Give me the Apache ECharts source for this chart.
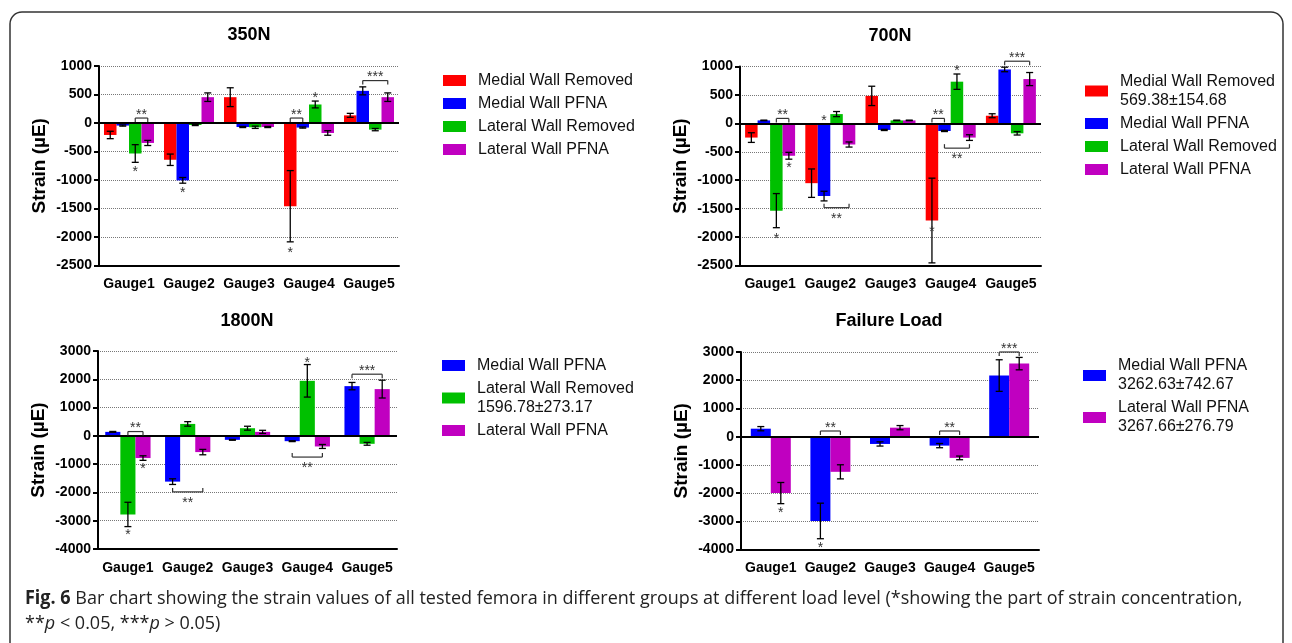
<!DOCTYPE html>
<html><head><meta charset="utf-8">
<script src="https://cdn.jsdelivr.net/npm/echarts@6/dist/echarts.min.js"></script>
<style>html,body{margin:0;padding:0;background:#fff}#c{width:1292px;height:643px}</style>
</head><body><div id="c"></div>
<script>
const gauges = ['Gauge1','Gauge2','Gauge3','Gauge4','Gauge5'];
const groupNames = ['Medial Wall Removed','Medial Wall PFNA','Lateral Wall Removed','Lateral Wall PFNA'];
const groupColors = ['#ff0000','#0000ff','#00c000','#c000c0'];

// ---- 350N ----
const mwr350 = [-210,-645,453,-1460,134];
const mwr350Err = [65,100,165,625,35];
const mwp350 = [-45,-1006,-70,-80,564];
const mwp350Err = [10,50,10,10,70];
const lwr350 = [-535,-35,-75,325,-116];
const lwr350Err = [155,10,20,60,20];
const lwp350 = [-350,453,-70,-175,453];
const lwp350Err = [45,75,10,40,75];
// brackets: [gauge, fromBar, toBar, y value, label, side]
const sig350 = [[0,2,3,87,'**','above'],[3,0,1,87,'**','above'],[4,1,3,744,'***','above']];
// stars: [gauge, bar, y value]
const star350 = [[0,2,-814],[1,1,-1174],[3,2,483],[3,0,-2227]];

// ---- 700N ----
const mwr700 = [-250,-1052,483,-1709,134];
const mwr700Err = [85,250,170,745,35];
const mwp700 = [52,-1279,-116,-134,948];
const mwp700Err = [5,85,10,10,40];
const lwr700 = [-1535,163,52,733,-175];
const lwr700Err = [300,45,5,135,30];
const lwp700 = [-570,-372,52,-250,779];
const lwp700Err = [60,45,5,50,115];
const sig700 = [[0,2,3,87,'**','above'],[1,1,3,-1483,'**','below'],[3,0,1,87,'**','above'],[3,1,3,-436,'**','below'],[4,1,3,1093,'***','above']];
const star700 = [[0,2,-1988],[0,3,-727],[1,1,87],[3,2,971],[3,0,-1860]];
const note700 = ['569.38±154.68','','',''];

// ---- 1800N ----
const mwp1800 = [141,-1618,-141,-188,1758];
const mwp1800Err = [15,100,15,15,130];
const lwr1800 = [-2778,422,270,1946,-281];
const lwr1800Err = [430,80,70,575,50];
const lwp1800 = [-785,-574,141,-375,1653];
const lwp1800Err = [80,95,55,70,315];
const sig1800 = [[0,1,2,152,'**','above'],[1,0,2,-1981,'**','below'],[3,0,2,-750,'**','below'],[4,0,2,2180,'***','above']];
const star1800 = [[0,2,-1078],[0,1,-3400],[3,1,2673]];
const note1800 = ['','1596.78±273.17',''];

// ---- Failure Load ----
const mwpFail = [282,-2988,-259,-318,2165];
const mwpFailErr = [75,630,75,75,560];
const lwpFail = [-2000,-1247,318,-753,2588];
const lwpFailErr = [375,250,75,65,220];
const sigFail = [[1,0,1,200,'**','above'],[3,0,1,200,'**','above'],[4,0,1,3000,'***','above']];
const starFail = [[0,1,-2612],[1,0,-3847]];
const noteFail = ['3262.63±742.67','3267.66±276.79'];

const yTicks350 = {min:-2500, max:1000, interval:500};
const yTicks1800 = {min:-4000, max:3000, interval:1000};

const charts = [
  {title:'350N', tx:249, ty:35, grid:{left:99,top:66,width:300,height:199.5}, ticks:yTicks350,
   groups:[0,1,2,3], means:[mwr350,mwp350,lwr350,lwp350], errs:[mwr350Err,mwp350Err,lwr350Err,lwp350Err],
   barW:12.5, sig:sig350, stars:star350, notes:['','','',''], legend:{left:443,top:71}},
  {title:'700N', tx:890, ty:36, grid:{left:740,top:66.5,width:301,height:199}, ticks:yTicks350,
   groups:[0,1,2,3], means:[mwr700,mwp700,lwr700,lwp700], errs:[mwr700Err,mwp700Err,lwr700Err,lwp700Err],
   barW:12.5, sig:sig700, stars:star700, notes:note700, legend:{left:1085,top:72}},
  {title:'1800N', tx:247, ty:321, grid:{left:98,top:351,width:299,height:198}, ticks:yTicks1800,
   groups:[1,2,3], means:[mwp1800,lwr1800,lwp1800], errs:[mwp1800Err,lwr1800Err,lwp1800Err],
   barW:15.1, sig:sig1800, stars:star1800, notes:note1800, legend:{left:442,top:356}},
  {title:'Failure Load', tx:889, ty:321, grid:{left:741,top:352,width:298,height:197.5}, ticks:yTicks1800,
   groups:[1,3], means:[mwpFail,lwpFail], errs:[mwpFailErr,lwpFailErr],
   barW:20, sig:sigFail, stars:starFail, notes:noteFail, legend:{left:1083,top:356.5}}
];

const FONT = '"Liberation Sans", Arial, sans-serif';
const grids = [], xAxes = [], yAxes = [], series = [], legends = [], graphics = [];

graphics.push({type:'rect', shape:{x:10,y:12,width:1273,height:720,r:12}, style:{fill:'none',stroke:'#333',lineWidth:1.5}, silent:true});

charts.forEach((ch, ci) => {
  grids.push(ch.grid);
  xAxes.push({gridIndex:ci, type:'category', data:gauges,
    axisLine:{onZero:false, lineStyle:{color:'#000',width:2}},
    axisTick:{alignWithLabel:true, length:6, lineStyle:{color:'#000',width:2}},
    axisLabel:{interval:0, color:'#000', fontWeight:'bold', fontSize:14, fontFamily:FONT, margin:12},
    splitLine:{show:false}});
  yAxes.push({gridIndex:ci, type:'value', min:ch.ticks.min, max:ch.ticks.max, interval:ch.ticks.interval,
    axisLine:{show:true, lineStyle:{color:'#000',width:2}},
    axisTick:{show:true, length:5, lineStyle:{color:'#000',width:2}},
    splitLine:{show:true, lineStyle:{type:'dotted', color:'#777', width:1}},
    axisLabel:{color:'#000', fontWeight:'bold', fontSize:14, fontFamily:FONT, margin:7, formatter:v => String(v)},
    name:'Strain (µE)', nameLocation:'middle', nameGap:50,
    nameTextStyle:{fontSize:19, fontWeight:'bold', color:'#000', fontFamily:FONT}});
  const n = ch.groups.length;
  const off = s => (s - (n - 1) / 2) * ch.barW;
  ch.groups.forEach((g, s) => {
    const ser = {type:'bar', name:groupNames[g], xAxisIndex:ci, yAxisIndex:ci, data:ch.means[s],
      barWidth:ch.barW, barGap:'0%', itemStyle:{color:groupColors[g]}, silent:true, z:2};
    if (s === 0) ser.markLine = {symbol:'none', silent:true, label:{show:false}, animation:false,
      lineStyle:{color:'#000', width:2, type:'solid'}, data:[{yAxis:0}]};
    series.push(ser);
  });
  // error bars
  const errData = [];
  ch.groups.forEach((g, s) => ch.means[s].forEach((m, gi) => errData.push([gi, m, ch.errs[s][gi], s])));
  series.push({type:'custom', xAxisIndex:ci, yAxisIndex:ci, data:errData, z:5, silent:true,
    encode:{x:0, y:1},
    renderItem:(params, api) => {
      const gi = api.value(0), m = api.value(1), e = api.value(2), s = api.value(3);
      const x = api.coord([gi, m])[0] + off(s);
      const yT = api.coord([gi, m + e])[1], yB = api.coord([gi, m - e])[1];
      const st = {stroke:'#000', lineWidth:1.3};
      const cap = 3.5;
      return {type:'group', children:[
        {type:'line', shape:{x1:x,y1:yT,x2:x,y2:yB}, style:st},
        {type:'line', shape:{x1:x-cap,y1:yT,x2:x+cap,y2:yT}, style:st},
        {type:'line', shape:{x1:x-cap,y1:yB,x2:x+cap,y2:yB}, style:st}]};
    }});
  // significance brackets
  const sigList = ch.sig;
  series.push({type:'custom', xAxisIndex:ci, yAxisIndex:ci, z:6, silent:true,
    data:sigList.map(a => [a[0], a[3]]), encode:{x:0, y:1},
    renderItem:(params, api) => {
      const a = sigList[params.dataIndex];
      const c = api.coord([a[0], a[3]]);
      const x1 = c[0] + off(a[1]), x2 = c[0] + off(a[2]), y = c[1];
      const dir = a[5] === 'above' ? 1 : -1;
      const st = {stroke:'#333', lineWidth:1.2};
      return {type:'group', children:[
        {type:'line', shape:{x1:x1,y1:y,x2:x2,y2:y}, style:st},
        {type:'line', shape:{x1:x1,y1:y,x2:x1,y2:y+4*dir}, style:st},
        {type:'line', shape:{x1:x2,y1:y,x2:x2,y2:y+4*dir}, style:st},
        {type:'text', x:(x1+x2)/2, y: y - dir*(a[5]==='above'?6:8) + 3,
         style:{text:a[4], fill:'#333', font:'14px '+FONT, textAlign:'center', textVerticalAlign:'middle'}}]};
    }});
  // stars
  const starList = ch.stars;
  series.push({type:'custom', xAxisIndex:ci, yAxisIndex:ci, z:6, silent:true,
    data:starList.map(a => [a[0], a[2]]), encode:{x:0, y:1},
    renderItem:(params, api) => {
      const a = starList[params.dataIndex];
      const c = api.coord([a[0], a[2]]);
      return {type:'text', x:c[0] + off(a[1]), y:c[1] + 3,
        style:{text:'*', fill:'#333', font:'14px '+FONT, textAlign:'center', textVerticalAlign:'middle'}};
    }});
  const notes = ch.notes, names = ch.groups.map(g => groupNames[g]);
  legends.push({left:ch.legend.left, top:ch.legend.top, orient:'vertical', icon:'rect', padding:0,
    itemWidth:23, itemHeight:11, itemGap:4, selectedMode:false, data:names,
    formatter: nm => { const k = names.indexOf(nm); return notes[k] ? nm + '\n' + notes[k] : nm; },
    textStyle:{fontSize:16, color:'#111', lineHeight:19, fontFamily:FONT, padding:[0,0,0,7]}});
  graphics.push({type:'text', x:ch.tx, y:ch.ty, silent:true,
    style:{text:ch.title, font:'bold 18px '+FONT, fill:'#000', textAlign:'center', textVerticalAlign:'middle'}});
});

// caption: Open Sans squeezed horizontally to the width of the reference line
const CAP = '"Open Sans", sans-serif';
const capLine1 = 'Fig. 6 Bar chart showing the strain values of all tested femora in different groups at different load level (*showing the part of strain concentration,';
const mctx = document.createElement('canvas').getContext('2d');
mctx.font = '19px ' + CAP;
const w1 = mctx.measureText(capLine1).width;
const capScale = Math.min(1, 1215 / w1);
graphics.push({type:'text', x:25, y:586, scaleX:capScale, silent:true,
  style:{text:'{b|Fig. 6} Bar chart showing the strain values of all tested femora in different groups at different load level (*showing the part of strain concentration,\n**{i|p} < 0.05, ***{i|p} > 0.05)',
    font:'19px ' + CAP, fill:'#222', lineHeight:25,
    rich:{b:{font:'bold 19px ' + CAP, fill:'#222', lineHeight:25},
          i:{font:'italic 19px ' + CAP, fill:'#222', lineHeight:25}}}});

const chart = echarts.init(document.getElementById('c'), null, {renderer:'canvas'});
chart.setOption({animation:false, grid:grids, xAxis:xAxes, yAxis:yAxes, series:series, legend:legends, graphic:graphics});
</script></body></html>
